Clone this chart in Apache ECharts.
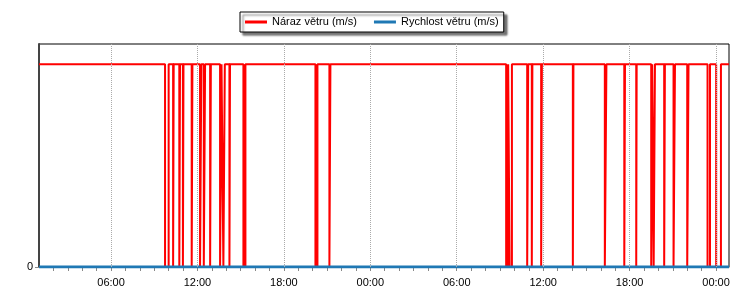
<!DOCTYPE html>
<html><head><meta charset="utf-8">
<script src="https://cdn.jsdelivr.net/npm/echarts@6/dist/echarts.min.js"></script>
<style>html,body{margin:0;padding:0;background:#fff}#c{width:750px;height:300px}</style>
</head><body><div id="c"></div>
<script>
// Time in hours since 00:00 of the first day
var startHour = 1;
var endHour = 48.9;
// Gust (Náraz větru): change points, value holds until next point
var gustTimes = [1, 9.75, 10.0, 10.31, 10.35, 10.74, 10.79, 10.99, 11.03, 11.60, 11.65,
  12.18, 12.27, 12.44, 12.53, 12.88, 12.93, 13.57, 13.67, 13.80, 13.90, 14.22, 14.26,
  15.19, 15.33, 20.19, 20.33, 21.16, 21.23, 33.43, 33.57, 33.67, 33.83, 34.89, 34.96,
  35.21, 35.25, 35.86, 35.91, 38.06, 38.10, 40.28, 40.39, 41.63, 41.68, 42.46, 42.49,
  43.50, 43.57, 43.67, 43.76, 44.40, 44.45, 45.05, 45.15, 46.00, 46.09, 47.41, 47.58,
  48.01, 48.34, 48.9];
var gustValues = [1, 0, 1, 0, 1, 0, 1, 0, 1, 0, 1,
  0, 1, 0, 1, 0, 1, 0, 1, 0, 1, 0, 1,
  0, 1, 0, 1, 0, 1, 0, 1, 0, 1, 0, 1,
  0, 1, 0, 1, 0, 1, 0, 1, 0, 1, 0, 1,
  0, 1, 0, 1, 0, 1, 0, 1, 0, 1, 0, 1,
  0, 1, 1];
// Wind speed (Rychlost větru)
var speedTimes = [1, 48.9];
var speedValues = [0, 0];
var gridHours = [6, 12, 18, 24, 30, 36, 42, 48];
var yTickValues = [0];

function pairs(t, v) { return t.map(function (x, i) { return [x, v[i]]; }); }
function pad(n) { return (n < 10 ? '0' : '') + n; }

var chart = echarts.init(document.getElementById('c'), null, {renderer: 'canvas'});
chart.setOption({
  animation: false,
  textStyle: {fontFamily: 'Liberation Sans, Arial, sans-serif'},
  legend: {
    top: 12, left: 240,
    padding: [4, 5],
    icon: 'rect',
    itemWidth: 22, itemHeight: 3, itemGap: 17,
    backgroundColor: '#fff', borderColor: '#000', borderWidth: 1,
    shadowColor: 'rgba(0,0,0,0.55)', shadowBlur: 2, shadowOffsetX: 3, shadowOffsetY: 3,
    textStyle: {fontSize: 11, color: '#000', fontFamily: 'Liberation Sans, Arial, sans-serif', lineHeight: 12},
    data: ['Náraz větru (m/s)', 'Rychlost větru (m/s)']
  },
  grid: {left: 39, right: 21, top: 44, bottom: 33, show: true, borderColor: '#000', borderWidth: 1, backgroundColor: '#fff'},
  xAxis: {
    type: 'value', min: startHour, max: endHour, interval: 1,
    axisLine: {show: true, lineStyle: {color: '#777', width: 1}},
    axisTick: {show: true, length: 4, lineStyle: {color: '#888'}},
    splitLine: {show: false},
    axisLabel: {
      color: '#000', fontSize: 11, margin: 10, showMinLabel: false, showMaxLabel: false,
      formatter: function (v) {
        if (gridHours.indexOf(v) < 0) return '';
        return pad(v % 24) + ':00';
      }
    }
  },
  yAxis: {
    type: 'value', min: 0, max: 1.1, interval: 1.1,
    axisLine: {show: true, lineStyle: {color: '#444', width: 2}},
    axisTick: {show: true, length: 4, customValues: yTickValues, lineStyle: {color: '#888'}},
    splitLine: {show: false},
    axisLabel: {
      color: '#000', fontSize: 11, margin: 6, customValues: yTickValues,
      formatter: function (v) { return yTickValues.indexOf(v) >= 0 ? String(v) : ''; }
    }
  },
  series: [
    {
      name: 'Náraz větru (m/s)', type: 'line', step: 'end', symbol: 'none',
      data: pairs(gustTimes, gustValues),
      lineStyle: {color: '#ff0000', width: 2}, itemStyle: {color: '#ff0000'},
      markLine: {
        silent: true, symbol: 'none', label: {show: false},
        lineStyle: {color: '#aaa', type: 'dotted', width: 1},
        data: gridHours.map(function (h) { return {xAxis: h}; })
      },
      z: 2
    },
    {
      name: 'Rychlost větru (m/s)', type: 'line', symbol: 'none',
      data: pairs(speedTimes, speedValues),
      lineStyle: {color: '#1f78b4', width: 3}, itemStyle: {color: '#1f78b4'},
      z: 3
    }
  ]
});
</script>
</body></html>
